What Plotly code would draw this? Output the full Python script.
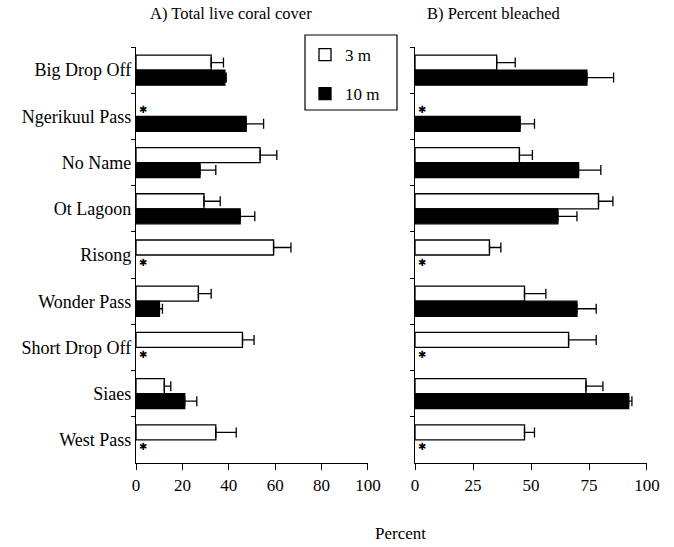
import plotly.graph_objects as go
from plotly.subplots import make_subplots

sites = ["Big Drop Off", "Ngerikuul Pass", "No Name", "Ot Lagoon", "Risong",
         "Wonder Pass", "Short Drop Off", "Siaes", "West Pass"]
depths = ["3 m", "10 m"]

cover_3m = [32.4, None, 53.5, 29.3, 59.3, 26.9, 45.9, 12.2, 34.4]
cover_3m_err = [5.3, None, 7.2, 7.0, 7.5, 5.5, 5.0, 2.8, 8.8]
cover_10m = [38.3, 47.5, 27.6, 44.9, None, 10.1, None, 21.0, None]
cover_10m_err = [0.6, 7.5, 6.8, 6.3, None, 1.3, None, 5.2, None]

bleach_3m = [35.2, None, 45.0, 79.1, 32.1, 47.2, 66.2, 73.7, 47.2]
bleach_3m_err = [8.0, None, 5.6, 6.2, 4.9, 9.2, 11.9, 7.3, 4.3]
bleach_10m = [74.1, 45.3, 70.5, 61.6, None, 69.8, None, 92.1, None]
bleach_10m_err = [11.5, 6.2, 9.6, 8.2, None, 8.3, None, 1.4, None]

left_ticks = [0, 20, 40, 60, 80, 100]
right_ticks = [0, 25, 50, 75, 100]

FONT = "Liberation Serif"

fig = make_subplots(rows=1, cols=2, shared_yaxes=False, horizontal_spacing=0.092)

def add_bar(vals, errs, name, fill, col, show):
    fig.add_trace(go.Bar(
        y=sites, x=vals, orientation="h", name=name,
        marker=dict(color=fill, line=dict(color="black", width=1.3)),
        error_x=dict(type="data", array=errs, arrayminus=[0] * len(errs),
                     symmetric=False, color="black", thickness=1.3, width=5),
        showlegend=show, legendgroup=name,
    ), row=1, col=col)

add_bar(cover_3m, cover_3m_err, depths[0], "white", 1, True)
add_bar(cover_10m, cover_10m_err, depths[1], "black", 1, True)
add_bar(bleach_3m, bleach_3m_err, depths[0], "white", 2, False)
add_bar(bleach_10m, bleach_10m_err, depths[1], "black", 2, False)

# asterisks for missing data
for xref, series in (("x", (cover_3m, cover_10m)), ("x2", (bleach_3m, bleach_10m))):
    yref = "y" if xref == "x" else "y2"
    for k, vals in enumerate(series):
        for s, v in zip(sites, vals):
            if v is None:
                fig.add_annotation(x=0, y=s, xref=xref, yref=yref, text="✱",
                                   showarrow=False, xshift=7,
                                   yshift=7 if k == 0 else -7,
                                   font=dict(family="DejaVu Sans", size=10, color="black"))

PW, PH = 511, 416  # plot-area size in px (paper units conversion)

def px_x(p):
    return (p - 136) / PW

def px_y(p):
    return (463 - p) / PH

fig.update_layout(
    width=674, height=547,
    margin=dict(l=136, r=27, t=47, b=84),
    barmode="group", bargap=0.35, bargroupgap=0,
    plot_bgcolor="white", paper_bgcolor="white",
    font=dict(family=FONT, size=16, color="black"),
    legend=dict(x=px_x(305), y=px_y(37), xanchor="left", yanchor="top",
                borderwidth=0, bgcolor="rgba(0,0,0,0)",
                traceorder="grouped", tracegroupgap=14,
                font=dict(family=FONT, size=17)),
)

# legend frame
fig.add_shape(type="rect", xref="paper", yref="paper",
              x0=px_x(305), x1=px_x(397), y0=px_y(110), y1=px_y(35),
              line=dict(color="black", width=1.2), fillcolor="rgba(0,0,0,0)")

fig.update_xaxes(range=[0, 100], showline=True, linecolor="black", linewidth=1.3,
                 ticks="outside", ticklen=6, tickcolor="black", showgrid=False,
                 zeroline=False, tickfont=dict(family=FONT, size=17))
fig.update_xaxes(tickvals=left_ticks, row=1, col=1)
fig.update_xaxes(tickvals=right_ticks, row=1, col=2)
fig.update_xaxes(domain=[0, 0.454], row=1, col=1)
fig.update_xaxes(domain=[0.546, 1], row=1, col=2)

fig.update_yaxes(autorange="reversed", categoryorder="array", categoryarray=sites,
                 showline=True, linecolor="black", linewidth=1.3,
                 ticks="outside", tickson="boundaries", ticklen=4, tickcolor="black",
                 showgrid=False, zeroline=False, tickfont=dict(family=FONT, size=18))
fig.update_yaxes(showticklabels=False, row=1, col=2)

fig.add_annotation(text="A) Total live coral cover", x=px_x(148), y=px_y(14),
                   xref="paper", yref="paper", xanchor="left", yanchor="middle",
                   showarrow=False, font=dict(family=FONT, size=16.5))
fig.add_annotation(text="B) Percent bleached", x=px_x(425), y=px_y(14),
                   xref="paper", yref="paper", xanchor="left", yanchor="middle",
                   showarrow=False, font=dict(family=FONT, size=16.5))
fig.add_annotation(text="Percent", x=px_x(400), y=px_y(533),
                   xref="paper", yref="paper", xanchor="center", yanchor="middle",
                   showarrow=False, font=dict(family=FONT, size=17))

fig.write_html("out.html")
